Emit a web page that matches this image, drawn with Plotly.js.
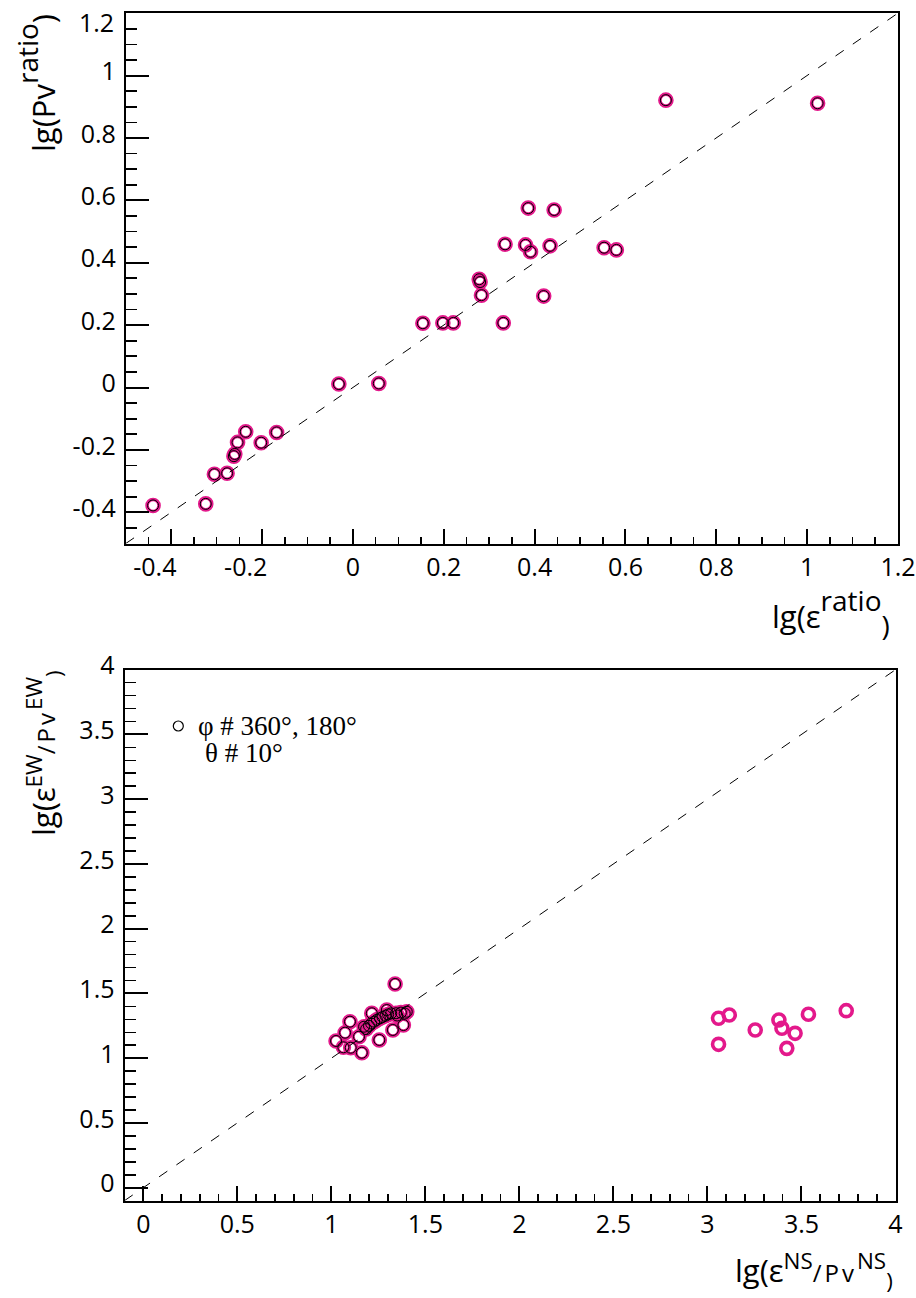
<!DOCTYPE html>
<html>
<head>
<meta charset="utf-8">
<script src="https://cdn.plot.ly/plotly-3.0.1.min.js"></script>
<style>html,body{margin:0;padding:0;background:#fff;}</style>
</head>
<body>
<div id="chart" style="width:916px;height:1298px;"></div>
<script>
// ---- Top panel data: lg(eps ratio) vs lg(Pv ratio) ----
const topX = [-0.440, -0.324, -0.305, -0.277, -0.262, -0.260, -0.254, -0.236, -0.202, -0.168,
              -0.031, 0.057, 0.154, 0.198, 0.221, 0.331, 0.278, 0.280, 0.283, 0.335,
              0.380, 0.391, 0.386, 0.420, 0.434, 0.443, 0.553, 0.580, 0.689, 1.023];
const topY = [-0.378, -0.373, -0.278, -0.275, -0.220, -0.213, -0.176, -0.142, -0.177, -0.144,
              0.011, 0.013, 0.206, 0.207, 0.207, 0.207, 0.347, 0.338, 0.296, 0.459,
              0.457, 0.435, 0.575, 0.293, 0.454, 0.569, 0.448, 0.441, 0.921, 0.911];

// ---- Bottom panel data: lg(eps NS / Pv NS) vs lg(eps EW / Pv EW) ----
const clusterX = [1.339, 1.099, 1.073, 1.025, 1.064, 1.103, 1.162, 1.147, 1.174, 1.215,
                  1.255, 1.295, 1.327, 1.344, 1.383, 1.401, 1.185, 1.200, 1.212, 1.228,
                  1.242, 1.258, 1.272, 1.288, 1.302, 1.318, 1.350, 1.370, 1.390];
const clusterY = [1.573, 1.282, 1.197, 1.133, 1.084, 1.081, 1.042, 1.166, 1.243, 1.347,
                  1.141, 1.372, 1.218, 1.347, 1.256, 1.359, 1.225, 1.250, 1.268, 1.282,
                  1.296, 1.308, 1.318, 1.328, 1.338, 1.346, 1.330, 1.352, 1.345];
const farX = [3.059, 3.116, 3.254, 3.380, 3.396, 3.466, 3.537, 3.738, 3.059, 3.422];
const farY = [1.308, 1.334, 1.218, 1.295, 1.231, 1.192, 1.339, 1.367, 1.107, 1.076];

// ---- Axis ranges and tick labels ----
const topRange = [-0.5, 1.2];
const topTickVals = [-0.4, -0.2, 0, 0.2, 0.4, 0.6, 0.8, 1, 1.2];
const topXTickText = ["-0.4\u2007\u2007\u2009", "-0.2\u2007\u2007\u2009", "0", "0.2", "0.4", "0.6", "0.8", "1", "1.2"];
const topYTickText = ["-0.4", "-0.2", "0", "0.2", "0.4", "0.6", "0.8", "1", "1.2"];
const bottomRange = [-0.1, 4];
const bottomTickVals = [0, 0.5, 1, 1.5, 2, 2.5, 3, 3.5, 4];
const bottomTickText = ["0", "0.5", "1", "1.5", "2", "2.5", "3", "3.5", "4"];

const PINK = '#e3198b';
const W = 916, H = 1298;
const px = v => v / W;
const py = v => (H - v) / H;

const pinkMarker = {symbol: 'circle-open', size: 12, color: PINK, line: {color: PINK, width: 3.6}};
const blackMarker = {symbol: 'circle-open', size: 11, color: '#000', line: {color: '#000', width: 1}};

const traces = [
  {x: topX, y: topY, xaxis: 'x', yaxis: 'y', mode: 'markers', type: 'scatter', marker: pinkMarker, showlegend: false},
  {x: topX, y: topY, xaxis: 'x', yaxis: 'y', mode: 'markers', type: 'scatter', marker: blackMarker, showlegend: false},
  {x: clusterX.concat(farX), y: clusterY.concat(farY), xaxis: 'x2', yaxis: 'y2', mode: 'markers', type: 'scatter', marker: pinkMarker, showlegend: false},
  {x: clusterX, y: clusterY, xaxis: 'x2', yaxis: 'y2', mode: 'markers', type: 'scatter', marker: blackMarker, showlegend: false}
];

const tickFont = {family: 'Open Sans, sans-serif', size: 25, color: '#000'};
function axis(domain, range, vals, text, len, minorDtick, minorLen, anchor, isY) {
  return {
    domain: domain, range: range, anchor: anchor,
    tickmode: 'array', tickvals: vals, ticktext: text,
    ticks: 'inside', ticklen: len, tickwidth: 2, tickcolor: '#000',
    minor: {ticks: 'inside', ticklen: minorLen, tickwidth: 1.6, tickcolor: '#000', tickmode: 'linear', tick0: 0, dtick: minorDtick, showgrid: false},
    showline: true, linewidth: 2, linecolor: '#000', mirror: true,
    showgrid: false, zeroline: false, tickfont: tickFont, automargin: false,
    ticklabeloverflow: 'allow',
    ticklabelshift: isY ? -4 : 0,
    ticklabelstandoff: isY ? 3 : 0
  };
}

const S = (sz, t, extra) => '<span style="font-size:' + sz + 'px' + (extra ? ';' + extra : '') + '">' + t + '</span>';
const font = sz => ({family: 'Open Sans, sans-serif', size: sz, color: '#000'});

// the top label of the upper y axis sits just inside the frame, as in the reference
const nTop = topTickVals.length - 1;
const yAxisTop = axis([py(543.5), py(13.1)], topRange, topTickVals.slice(0, nTop), topYTickText.slice(0, nTop), 23, 0.05, 11, 'x', true);

const layout = {
  width: W, height: H,
  margin: {l: 0, r: 0, t: 0, b: 0},
  paper_bgcolor: '#fff', plot_bgcolor: '#fff',
  showlegend: false,
  xaxis: axis([px(125.8), px(898)], topRange, topTickVals, topXTickText, 15, 0.05, 7, 'y', false),
  yaxis: yAxisTop,
  xaxis2: axis([px(124.5), px(895.5)], bottomRange, bottomTickVals, bottomTickText, 15, 0.1, 7, 'y2', false),
  yaxis2: axis([py(1200.65), py(669.7)], bottomRange, bottomTickVals, bottomTickText, 23, 0.1, 11, 'x2', true),
  shapes: [
    {type: 'line', xref: 'x', yref: 'y', x0: topRange[0], y0: topRange[0], x1: topRange[1], y1: topRange[1],
     line: {color: '#000', width: 1, dash: '10px,11px'}},
    {type: 'line', xref: 'x2', yref: 'y2', x0: bottomRange[0], y0: bottomRange[0], x1: bottomRange[1], y1: bottomRange[1],
     line: {color: '#000', width: 1, dash: '10px,11px'}},
    {type: 'circle', xref: 'paper', yref: 'paper', x0: px(173.3), x1: px(183.3), y0: py(731), y1: py(721),
     line: {color: '#000', width: 1.2}}
  ],
  annotations: [
    {xref: 'paper', yref: 'y', x: px(116), y: topTickVals[nTop], xanchor: 'right', yanchor: 'middle', yshift: -9, showarrow: false,
     text: topYTickText[nTop], font: tickFont},
    {xref: 'paper', yref: 'paper', x: px(36), y: py(12), xanchor: 'center', yanchor: 'top', textangle: -90, showarrow: false,
     text: S(31, 'lg(Pv') + '<sup>ratio</sup>' + S(31, ')'), font: font(40)},
    {xref: 'paper', yref: 'paper', x: px(892), y: py(612), xanchor: 'right', yanchor: 'middle', showarrow: false,
     text: S(31, 'lg(ε') + '<sup>ratio</sup><sub>)</sub>', font: font(40)},
    {xref: 'paper', yref: 'paper', x: px(43), y: py(668), xanchor: 'center', yanchor: 'top', textangle: -90, showarrow: false,
     text: S(31, 'lg(ε') + '<sup>EW</sup>' + S(24, '/Pv', 'letter-spacing:3px') + '<sup>EW</sup><sub>)</sub>', font: font(32)},
    {xref: 'paper', yref: 'paper', x: px(895), y: py(1270), xanchor: 'right', yanchor: 'middle', showarrow: false,
     text: S(31, 'lg(ε') + '<sup>NS</sup>' + S(24, '/Pv', 'letter-spacing:3px') + '<sup>NS</sup><sub>)</sub>', font: font(32)},
    {xref: 'paper', yref: 'paper', x: px(196), y: py(726), xanchor: 'left', yanchor: 'middle', showarrow: false,
     text: 'φ # 360°, 180°', font: {family: 'Liberation Serif, serif', size: 27, color: '#000'}},
    {xref: 'paper', yref: 'paper', x: px(203), y: py(753), xanchor: 'left', yanchor: 'middle', showarrow: false,
     text: 'θ # 10°', font: {family: 'Liberation Serif, serif', size: 27, color: '#000'}}
  ]
};

Plotly.newPlot('chart', traces, layout, {displayModeBar: false, staticPlot: true});
</script>
</body>
</html>
